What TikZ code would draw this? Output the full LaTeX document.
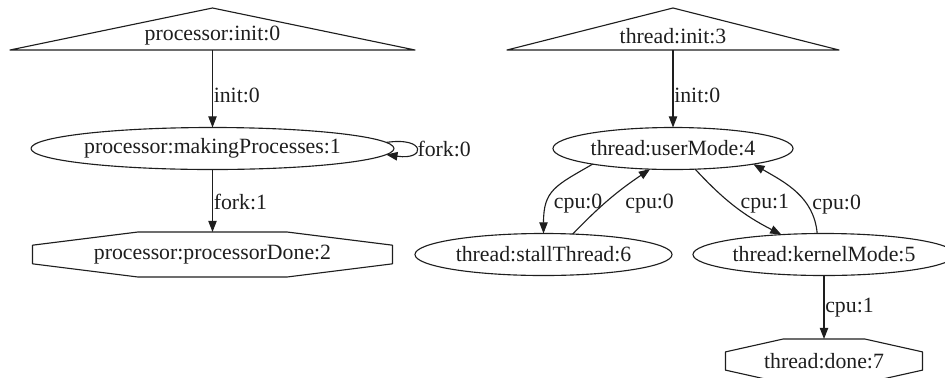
\documentclass[tikz,border=0pt]{standalone}
\usepackage{fontspec}
\setmainfont{Liberation Serif}
\usetikzlibrary{arrows.meta,calc,shapes.geometric}
\definecolor{fg}{RGB}{30,30,30}
\tikzset{
  every picture/.style={fg, line width=0.8pt, line join=round,
    >={Triangle[length=8pt,width=6pt]}},
  every node/.style={font=\fontsize{15.5}{18}\selectfont, text=fg},
  % Knoten
  state/.style={ellipse, draw, minimum height=1.05cm, inner sep=0pt, outer sep=0pt},
  tribox/.style={rectangle, inner sep=0pt, outer sep=0pt, minimum height=0.7cm},
  octbox/.style={rectangle, inner sep=0pt, outer sep=0pt},
  % Kanten
  trans/.style={->},
  lab/.style={inner sep=0.5pt},
}
% Dreieck um den Startknoten
\newcommand{\triframe}[1]{%
  \draw (#1.south west) -- ($(#1.north)+(0,-14)$) -- (#1.south east) -- cycle;}
% gestrecktes Achteck um den Endknoten
\newcommand{\octframe}[1]{%
  \draw ($(#1.north west)!.293!(#1.north east)$) -- ($(#1.north west)!.707!(#1.north east)$)
    -- ($(#1.north east)!.293!(#1.south east)$) -- ($(#1.north east)!.707!(#1.south east)$)
    -- ($(#1.south west)!.707!(#1.south east)$) -- ($(#1.south west)!.293!(#1.south east)$)
    -- ($(#1.north west)!.707!(#1.south west)$) -- ($(#1.north west)!.293!(#1.south west)$) -- cycle;}

\begin{document}
\begin{tikzpicture}[x=0.025cm, y=-0.025cm]
  \useasboundingbox (0,0) rectangle (945,377);
  % Prozessor
  \node[tribox, minimum width=10.125cm] (pinit) at (212.5,36) {processor:init:0};
  \node[state, minimum width=8.9cm] (pmaking) at (212.5,148.5) {processor:makingProcesses:1};
  \node[octbox, minimum width=9cm, minimum height=1.125cm] (pdone) at (212.5,254.5) {processor:processorDone:2};
  \triframe{pinit}
  \octframe{pdone}
  \draw[trans] (pinit.south) -- node[lab, pos=0.58, anchor=west] (lpi) {init:0} (pmaking);
  \draw[trans] (pmaking.2) .. controls +(40,-6) and +(40,6) .. node[lab, anchor=west] (lpf0) {fork:0} (pmaking.-2);
  \draw[trans] (pmaking) -- node[lab, pos=0.52, anchor=west] (lpf1) {fork:1} (pdone);
  % Thread
  \node[tribox, minimum width=8.3cm] (tinit) at (673,36) {thread:init:3};
  \node[state, minimum width=6cm] (tuser) at (673,148.5) {thread:userMode:4};
  \node[state, minimum width=6.425cm] (tstall) at (543.5,254.5) {thread:stallThread:6};
  \node[state, minimum width=6.55cm] (tkernel) at (824,254.5) {thread:kernelMode:5};
  \node[octbox, minimum width=4.925cm, minimum height=1.1cm] (tdone) at (824,361) {thread:done:7};
  \triframe{tinit}
  \octframe{tdone}
  \draw[trans] (tinit.south) -- node[lab, pos=0.58, anchor=west] (lti) {init:0} (tuser);
  \draw[trans] (tuser.191) to[out=210, in=90, looseness=1.3] node[lab, pos=0.7, anchor=west, xshift=4pt] (lc1) {cpu:0} (tstall.north);
  \draw[trans] (tstall.35) to[bend left=6] node[lab, pos=0.43, anchor=west, xshift=14pt] (lc2) {cpu:0} (tuser.222);
  \draw[trans] (tuser.317) to[bend right=10] node[lab, pos=0.45, anchor=west, xshift=6pt] (lc3) {cpu:1} (tkernel.155);
  \draw[trans] (tkernel.108) to[out=95, in=-30] node[lab, pos=0.32, anchor=west, xshift=3pt] (lc4) {cpu:0} (tuser.-11);
  \draw[trans] (tkernel) -- node[lab, pos=0.5, anchor=west] (lc5) {cpu:1} (tdone);
\end{tikzpicture}
\end{document}
